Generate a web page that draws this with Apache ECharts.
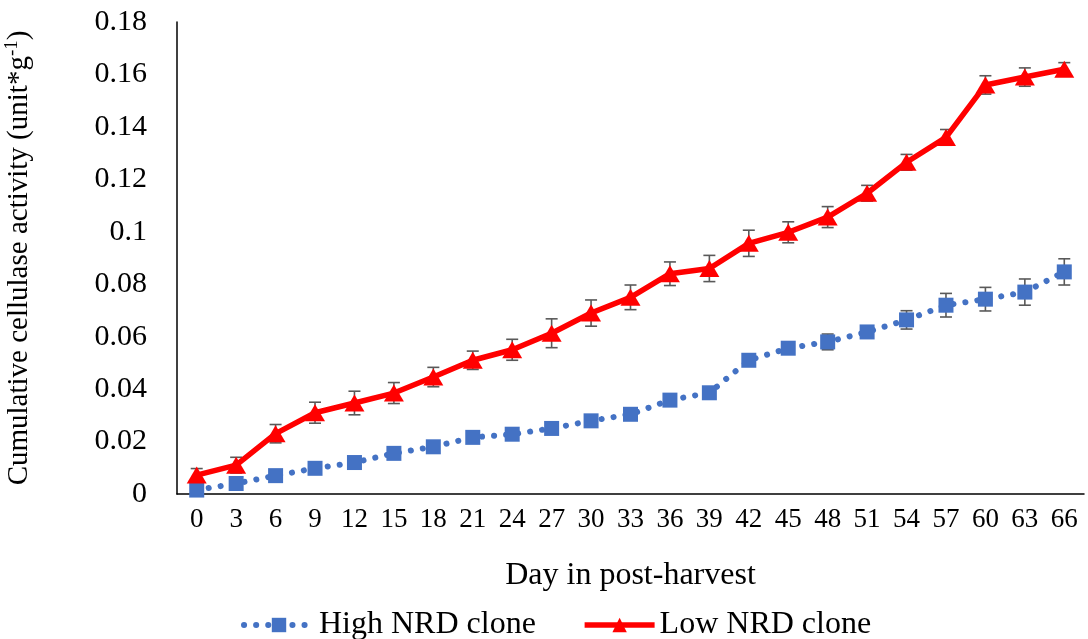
<!DOCTYPE html>
<html>
<head>
<meta charset="utf-8">
<script src="https://cdn.jsdelivr.net/npm/echarts@6/dist/echarts.min.js"></script>
<style>
html,body{margin:0;padding:0;background:#fff;}
#chart{width:1088px;height:639px;}
</style>
</head>
<body>
<div id="chart"></div>
<script>
const days = ['0','3','6','9','12','15','18','21','24','27','30','33','36','39','42','45','48','51','54','57','60','63','66'];
const highNRD = [0.0015,0.004,0.007,0.0098,0.012,0.0155,0.018,0.0216,0.0228,0.025,0.0279,0.0304,0.0358,0.0386,0.051,0.0556,0.058,0.0618,0.0664,0.072,0.0743,0.077,0.0847];
const highErr = [0.001,0.001,0.001,0.001,0.001,0.001,0.001,0.001,0.001,0.001,0.001,0.001,0.001,0.001,0.0015,0.002,0.003,0.002,0.0035,0.0045,0.0045,0.005,0.005];
const lowNRD = [0.0072,0.011,0.023,0.031,0.0347,0.0385,0.0446,0.051,0.055,0.0613,0.069,0.075,0.084,0.086,0.0956,0.0998,0.1056,0.1147,0.1265,0.136,0.156,0.159,0.162];
const lowErr = [0.0025,0.003,0.0035,0.004,0.0045,0.004,0.0037,0.0035,0.004,0.0055,0.005,0.0047,0.0045,0.005,0.005,0.004,0.004,0.003,0.003,0.003,0.0035,0.0035,0.0025];
const yTicks = [0,0.02,0.04,0.06,0.08,0.1,0.12,0.14,0.16,0.18];

const FONT = '"Liberation Serif", "Times New Roman", serif';

function errData(vals, errs){
  return vals.map((v,i)=>[i, v - errs[i], v + errs[i]]);
}
function errRender(params, api){
  const i = api.value(0);
  const lo = api.coord([i, api.value(1)]);
  const hi = api.coord([i, api.value(2)]);
  const hw = 6;
  const style = {stroke:'#595959', lineWidth:1.6, fill:null};
  return {
    type:'group',
    children:[
      {type:'line', shape:{x1:lo[0],y1:lo[1],x2:hi[0],y2:hi[1]}, style:style},
      {type:'line', shape:{x1:lo[0]-hw,y1:lo[1],x2:lo[0]+hw,y2:lo[1]}, style:style},
      {type:'line', shape:{x1:hi[0]-hw,y1:hi[1],x2:hi[0]+hw,y2:hi[1]}, style:style}
    ]
  };
}

const chart = echarts.init(document.getElementById('chart'), null, {renderer:'canvas'});
chart.setOption({
  animation:false,
  backgroundColor:'#fff',
  grid:{left:177, right:4, top:22, bottom:145, containLabel:false, outerBoundsMode:'none'},
  legend:{
    top:604, left:236,
    itemWidth:70, itemHeight:18, itemGap:46,
    textStyle:{fontFamily:FONT, fontSize:32, color:'#000'},
    lineStyle:{width:'inherit', type:'inherit', cap:'inherit'},
    data:['High NRD clone','Low NRD clone']
  },
  xAxis:{
    type:'category',
    data:days,
    boundaryGap:true,
    axisLine:{lineStyle:{color:'#000', width:1.5}},
    axisTick:{show:false},
    axisLabel:{fontFamily:FONT, fontSize:27, color:'#000', margin:12, interval:0},
    name:'Day in post-harvest',
    nameLocation:'middle',
    nameGap:66,
    nameTextStyle:{fontFamily:FONT, fontSize:32, color:'#000'}
  },
  yAxis:{
    type:'value',
    min:0, max:0.18, interval:0.02,
    axisLine:{show:true, lineStyle:{color:'#000', width:1.5}},
    axisTick:{show:false},
    splitLine:{show:false},
    axisLabel:{fontFamily:FONT, fontSize:30, color:'#000', margin:30,
      formatter:function(v){ return String(parseFloat(v.toFixed(2))); }},
    name:'{a|Cumulative cellulase activity (unit*g}{sup|-1}{a|)}',
    nameLocation:'middle',
    nameGap:141,
    nameRotate:90,
    nameTextStyle:{
      fontFamily:FONT, fontSize:29, color:'#000',
      rich:{
        a:{fontFamily:FONT, fontSize:29, color:'#000'},
        sup:{fontFamily:FONT, fontSize:19, color:'#000', padding:[0,0,14,0]}
      }
    }
  },
  series:[
    {
      type:'custom',
      name:'errHigh',
      renderItem:errRender,
      data:errData(highNRD, highErr),
      z:1,
      silent:true
    },
    {
      type:'custom',
      name:'errLow',
      renderItem:errRender,
      data:errData(lowNRD, lowErr),
      z:1,
      silent:true
    },
    {
      name:'High NRD clone',
      type:'line',
      data:highNRD,
      symbol:'rect',
      symbolSize:15,
      itemStyle:{color:'#4472C4'},
      lineStyle:{color:'#4472C4', width:6, type:[0.1,12], cap:'round'},
      z:3
    },
    {
      name:'Low NRD clone',
      type:'line',
      data:lowNRD,
      symbol:'triangle',
      symbolSize:[20,17],
      itemStyle:{color:'#FF0000'},
      lineStyle:{color:'#FF0000', width:5.5},
      z:4
    }
  ]
});
</script>
</body>
</html>
